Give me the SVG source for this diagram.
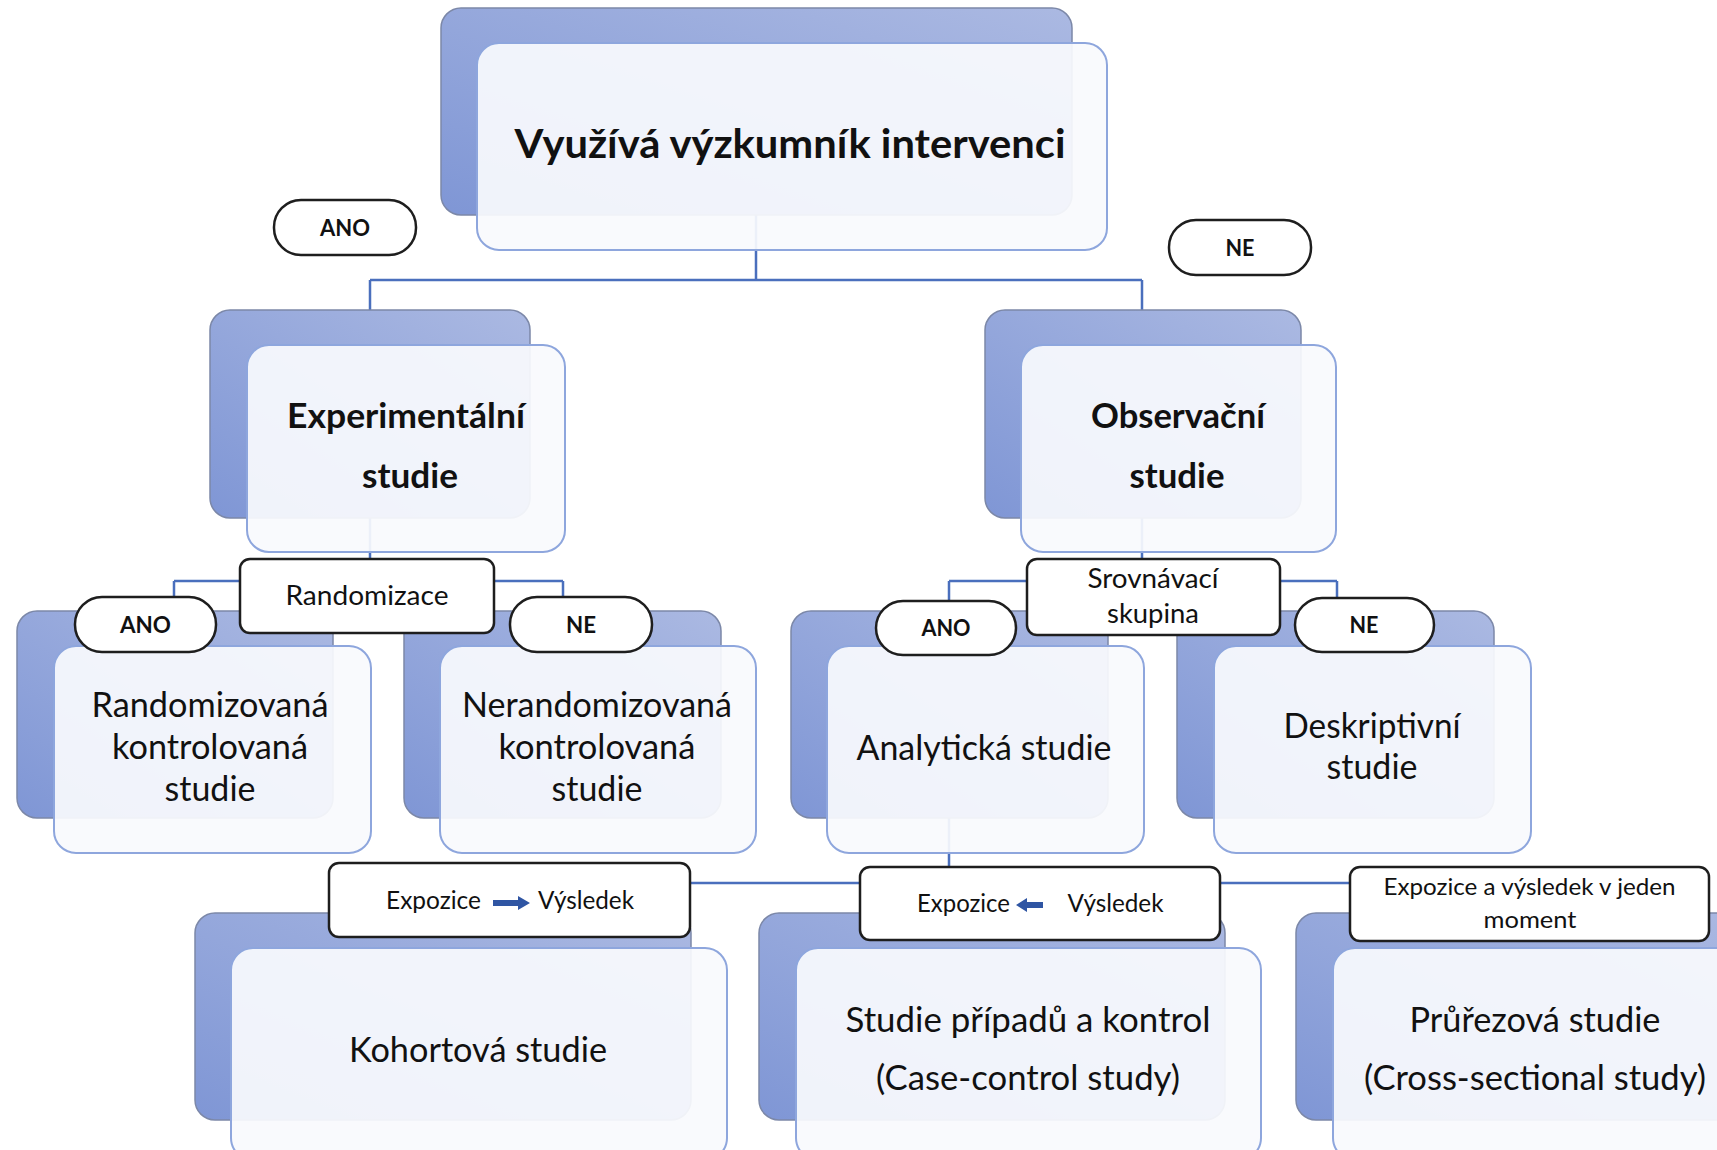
<svg xmlns="http://www.w3.org/2000/svg" width="1717" height="1150" viewBox="0 0 1717 1150">
<defs>
<linearGradient id="bg" x1="1" y1="0" x2="0" y2="1">
<stop offset="0" stop-color="#abb9e2"/>
<stop offset="1" stop-color="#7f96d5"/>
</linearGradient>
<style>
.back{fill:url(#bg);stroke:#7c88a8;stroke-width:1.5}
.front{fill:#f9fafd;fill-opacity:0.93;stroke:#8ea6dd;stroke-width:2}
.lbl{fill:#ffffff;stroke:#1e1e1e;stroke-width:2.5}
.con{fill:none;stroke:#4a6fbd;stroke-width:2.5}
.t{font-family:Lato,"Liberation Sans",sans-serif;fill:#111;text-anchor:middle;font-size:35px}
.b{font-weight:700}
.s{font-size:27px}
.xs{font-size:25px}
.p{font-size:23px;font-weight:700}
.arr{fill:#2f55a3}
</style>
</defs>
<rect width="1717" height="1150" fill="#ffffff"/>

<g id="connectors">
<path class="con" d="M756 200 V280 M370 280 H1142 M370 280 V310 M1142 280 V310"/>
<path class="con" d="M370 517 V559 M174 581 H563 M174 581 V597 M563 581 V597"/>
<path class="con" d="M1142 517 V559 M949 581 H1337 M949 581 V601 M1337 581 V598"/>
<path class="con" d="M949 818 V883 M443 883 H1530 M443 883 V913 M992 883 V913 M1530 883 V913"/>
</g>

<g id="n-top">
<rect class="back" x="441" y="8" width="631" height="207" rx="20"/>
<rect class="front" x="477" y="43" width="630" height="207" rx="22"/>
<text class="t b" x="790" y="158" style="font-size:40px" textLength="551" lengthAdjust="spacingAndGlyphs">Využívá výzkumník intervenci</text>
</g>

<g id="n-exp">
<rect class="back" x="210" y="310" width="320" height="208" rx="20"/>
<rect class="front" x="247" y="345" width="318" height="207" rx="22"/>
<text class="t b" x="406" y="428" textLength="238" lengthAdjust="spacingAndGlyphs">Experimentální</text>
<text class="t b" x="410" y="488" textLength="96" lengthAdjust="spacingAndGlyphs">studie</text>
</g>

<g id="n-obs">
<rect class="back" x="985" y="310" width="316" height="208" rx="20"/>
<rect class="front" x="1021" y="345" width="315" height="207" rx="22"/>
<text class="t b" x="1178" y="428" textLength="174" lengthAdjust="spacingAndGlyphs">Observační</text>
<text class="t b" x="1177" y="488" textLength="95" lengthAdjust="spacingAndGlyphs">studie</text>
</g>

<g id="n-rand">
<rect class="back" x="17" y="611" width="316" height="207" rx="20"/>
<rect class="front" x="54" y="646" width="317" height="207" rx="22"/>
<text class="t" x="210" y="717" textLength="237" lengthAdjust="spacingAndGlyphs">Randomizovaná</text>
<text class="t" x="210" y="759" textLength="196" lengthAdjust="spacingAndGlyphs">kontrolovaná</text>
<text class="t" x="210" y="801" textLength="91" lengthAdjust="spacingAndGlyphs">studie</text>
</g>

<g id="n-nerand">
<rect class="back" x="404" y="611" width="317" height="207" rx="20"/>
<rect class="front" x="440" y="646" width="316" height="207" rx="22"/>
<text class="t" x="597" y="717" textLength="270" lengthAdjust="spacingAndGlyphs">Nerandomizovaná</text>
<text class="t" x="597" y="759" textLength="197" lengthAdjust="spacingAndGlyphs">kontrolovaná</text>
<text class="t" x="597" y="801" textLength="91" lengthAdjust="spacingAndGlyphs">studie</text>
</g>

<g id="n-anal">
<rect class="back" x="791" y="611" width="317" height="207" rx="20"/>
<rect class="front" x="827" y="646" width="317" height="207" rx="22"/>
<text class="t" x="984" y="760" textLength="255" lengthAdjust="spacingAndGlyphs">Analytická studie</text>
</g>

<g id="n-desc">
<rect class="back" x="1177" y="611" width="317" height="207" rx="20"/>
<rect class="front" x="1214" y="646" width="317" height="207" rx="22"/>
<text class="t" x="1372" y="738" textLength="177" lengthAdjust="spacingAndGlyphs">Deskriptivní</text>
<text class="t" x="1372" y="779" textLength="91" lengthAdjust="spacingAndGlyphs">studie</text>
</g>

<g id="n-koh">
<rect class="back" x="195" y="913" width="496" height="207" rx="20"/>
<rect class="front" x="231" y="948" width="496" height="212" rx="22"/>
<text class="t" x="478" y="1062" textLength="258" lengthAdjust="spacingAndGlyphs">Kohortová studie</text>
</g>

<g id="n-cc">
<rect class="back" x="759" y="913" width="466" height="207" rx="20"/>
<rect class="front" x="796" y="948" width="465" height="212" rx="22"/>
<text class="t" x="1028" y="1032" textLength="365" lengthAdjust="spacingAndGlyphs">Studie případů a kontrol</text>
<text class="t" x="1028" y="1090" textLength="304" lengthAdjust="spacingAndGlyphs">(Case-control study)</text>
</g>

<g id="n-cs">
<rect class="back" x="1296" y="913" width="460" height="207" rx="20"/>
<rect class="front" x="1333" y="948" width="450" height="212" rx="22"/>
<text class="t" x="1535" y="1032" textLength="251" lengthAdjust="spacingAndGlyphs">Průřezová studie</text>
<text class="t" x="1535" y="1090" textLength="342" lengthAdjust="spacingAndGlyphs">(Cross-sectional study)</text>
</g>

<g id="l-ano-top">
<rect class="lbl" x="274" y="200" width="142" height="55" rx="27"/>
<text class="t p" x="345" y="236" textLength="50" lengthAdjust="spacingAndGlyphs">ANO</text>
</g>
<g id="l-ne-top">
<rect class="lbl" x="1169" y="220" width="142" height="55" rx="27"/>
<text class="t p" x="1240" y="256" textLength="29" lengthAdjust="spacingAndGlyphs">NE</text>
</g>

<g id="l-randomizace">
<rect class="lbl" x="240" y="559" width="254" height="74" rx="10"/>
<text class="t s" x="367" y="605" textLength="163" lengthAdjust="spacingAndGlyphs">Randomizace</text>
</g>
<g id="l-ano-left">
<rect class="lbl" x="75" y="597" width="141" height="55" rx="27"/>
<text class="t p" x="145.5" y="633" textLength="51" lengthAdjust="spacingAndGlyphs">ANO</text>
</g>
<g id="l-ne-left">
<rect class="lbl" x="510" y="597" width="142" height="55" rx="27"/>
<text class="t p" x="581" y="633" textLength="30" lengthAdjust="spacingAndGlyphs">NE</text>
</g>

<g id="l-srovnavaci">
<rect class="lbl" x="1027" y="559" width="253" height="76" rx="10"/>
<text class="t s" x="1153" y="588" textLength="131" lengthAdjust="spacingAndGlyphs">Srovnávací</text>
<text class="t s" x="1153" y="623" textLength="92" lengthAdjust="spacingAndGlyphs">skupina</text>
</g>
<g id="l-ano-right">
<rect class="lbl" x="876" y="601" width="140" height="54" rx="27"/>
<text class="t p" x="946" y="636" textLength="49" lengthAdjust="spacingAndGlyphs">ANO</text>
</g>
<g id="l-ne-right">
<rect class="lbl" x="1295" y="598" width="139" height="54" rx="27"/>
<text class="t p" x="1364" y="633" textLength="29" lengthAdjust="spacingAndGlyphs">NE</text>
</g>

<g id="l-koh">
<rect class="lbl" x="329" y="863" width="361" height="74" rx="10"/>
<text class="t xs" x="433.5" y="909" textLength="95" lengthAdjust="spacingAndGlyphs">Expozice</text>
<path class="arr" d="M493 900 H518 V896 L530 903 L518 910 V906 H493 Z"/>
<text class="t xs" x="586" y="909" textLength="96" lengthAdjust="spacingAndGlyphs">Výsledek</text>
</g>
<g id="l-cc">
<rect class="lbl" x="860" y="867" width="360" height="73" rx="10"/>
<text class="t xs" x="963.5" y="912" textLength="93" lengthAdjust="spacingAndGlyphs">Expozice</text>
<path class="arr" d="M1043 902 H1027 V898 L1016 905 L1027 912 V908 H1043 Z"/>
<text class="t xs" x="1115.5" y="912" textLength="96" lengthAdjust="spacingAndGlyphs">Výsledek</text>
</g>
<g id="l-cs">
<rect class="lbl" x="1350" y="867" width="359" height="74" rx="10"/>
<text class="t" x="1529.5" y="895" style="font-size:24px" textLength="292" lengthAdjust="spacingAndGlyphs">Expozice a výsledek v jeden</text>
<text class="t" x="1530" y="928" style="font-size:24px" textLength="93" lengthAdjust="spacingAndGlyphs">moment</text>
</g>
</svg>
